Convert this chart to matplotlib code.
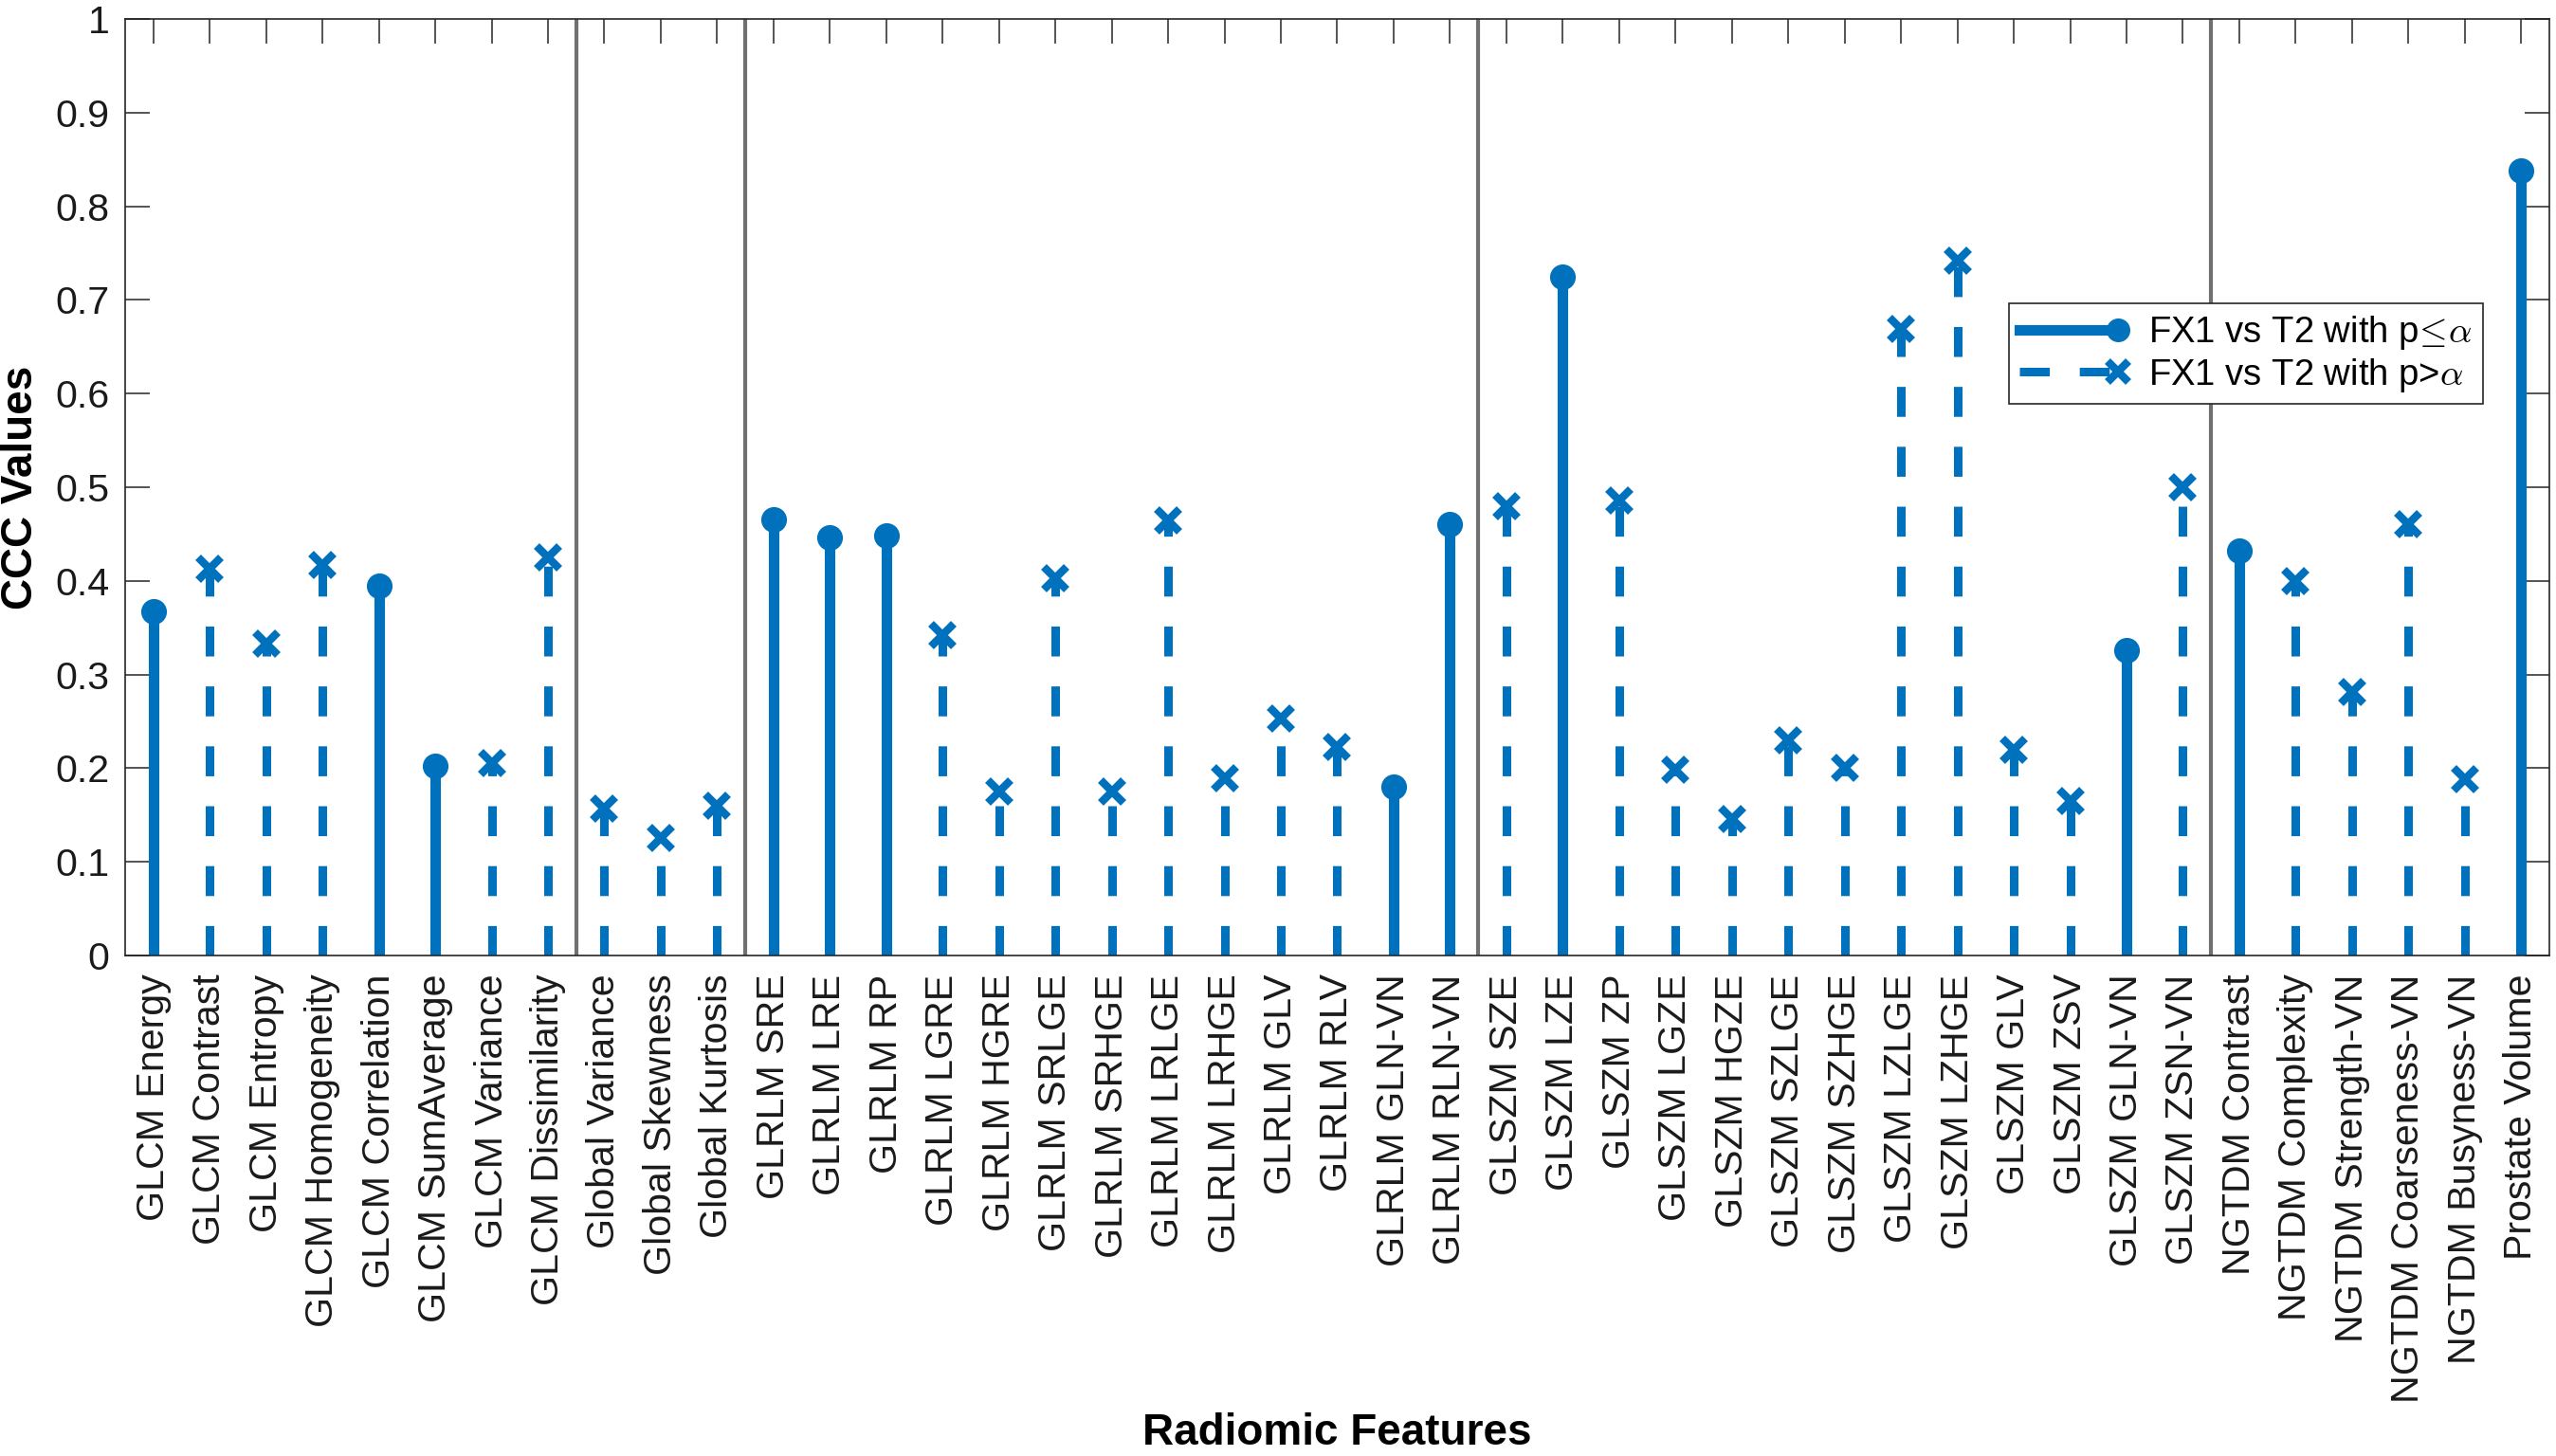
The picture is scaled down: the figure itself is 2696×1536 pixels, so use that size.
import numpy as np
import matplotlib
matplotlib.use("Agg")
import matplotlib.pyplot as plt
from matplotlib.lines import Line2D
from matplotlib.legend_handler import HandlerLine2D

plt.rcParams["font.family"] = ["Liberation Sans", "DejaVu Sans"]
plt.rcParams["mathtext.fontset"] = "cm"

features = [
    "GLCM Energy", "GLCM Contrast", "GLCM Entropy", "GLCM Homogeneity",
    "GLCM Correlation", "GLCM SumAverage", "GLCM Variance", "GLCM Dissimilarity",
    "Global Variance", "Global Skewness", "Global Kurtosis",
    "GLRLM SRE", "GLRLM LRE", "GLRLM RP", "GLRLM LGRE", "GLRLM HGRE",
    "GLRLM SRLGE", "GLRLM SRHGE", "GLRLM LRLGE", "GLRLM LRHGE", "GLRLM GLV",
    "GLRLM RLV", "GLRLM GLN-VN", "GLRLM RLN-VN",
    "GLSZM SZE", "GLSZM LZE", "GLSZM ZP", "GLSZM LGZE", "GLSZM HGZE",
    "GLSZM SZLGE", "GLSZM SZHGE", "GLSZM LZLGE", "GLSZM LZHGE", "GLSZM GLV",
    "GLSZM ZSV", "GLSZM GLN-VN", "GLSZM ZSN-VN",
    "NGTDM Contrast", "NGTDM Complexity", "NGTDM Strength-VN",
    "NGTDM Coarseness-VN", "NGTDM Busyness-VN", "Prostate Volume",
]
ccc = [
    0.367, 0.413, 0.333, 0.417, 0.395, 0.202, 0.205, 0.425,
    0.157, 0.126, 0.160,
    0.466, 0.446, 0.448, 0.342, 0.175, 0.403, 0.175, 0.465, 0.189, 0.253,
    0.223, 0.180, 0.461,
    0.480, 0.725, 0.486, 0.198, 0.146, 0.230, 0.200, 0.669, 0.742, 0.220,
    0.165, 0.326, 0.500,
    0.432, 0.400, 0.281, 0.461, 0.188, 0.838,
]
# True -> p <= alpha (solid stem, dot), False -> p > alpha (dashed stem, cross)
significant = [
    True, False, False, False, True, True, False, False,
    False, False, False,
    True, True, True, False, False, False, False, False, False, False,
    False, True, True,
    False, True, False, False, False, False, False, False, False, False,
    False, True, False,
    True, False, False, False, False, True,
]
group_breaks = [8.5, 11.5, 24.5, 37.5]
yticks = [0, 0.1, 0.2, 0.3, 0.4, 0.5, 0.6, 0.7, 0.8, 0.9, 1]

blue = "#0072BD"
dash = (0, (3.5, 3.5))

x = np.arange(1, len(features) + 1)
vals = np.array(ccc)
sig = np.array(significant)

fig = plt.figure(figsize=(26.96, 15.36), dpi=100)
ax = fig.add_axes([0.04896, 0.34375, 0.94844, 0.64323])

ax.vlines(group_breaks, 0, 1, color="#707070", lw=3, zorder=1)

ax.vlines(x[sig], 0, vals[sig], color=blue, lw=8, zorder=2)
ax.vlines(x[~sig], 0, vals[~sig], color=blue, lw=6.5, linestyles=[dash], zorder=2)
ax.plot(x[sig], vals[sig], "o", color=blue, ms=18.5, zorder=3)
ax.plot(x[~sig], vals[~sig], "x", color=blue, ms=17, mew=6, zorder=3)

ax.set_xlim(0.5, len(features) + 0.5)
ax.set_ylim(0, 1)
ax.set_xticks(x)
ax.set_xticklabels(features, rotation=90, fontsize=29.6, color="#1a1a1a")
ax.set_yticks(yticks)
ax.set_yticklabels([f"{v:g}" for v in yticks], fontsize=29.6, color="#1a1a1a")
ax.tick_params(axis="both", direction="in", top=True, right=True,
               length=19, width=1.1, color="#262626")
ax.tick_params(axis="x", pad=14)
ax.tick_params(axis="y", pad=12)
for s in ax.spines.values():
    s.set_linewidth(1.2)
    s.set_color("#262626")

ax.set_xlabel("Radiomic Features", fontsize=33, fontweight="bold")
ax.xaxis.set_label_coords(0.5, -0.488)
ax.set_ylabel("CCC Values", fontsize=33, fontweight="bold")
ax.yaxis.set_label_coords(-0.0344, 0.5)


class EndMarkerHandler(HandlerLine2D):
    # MATLAB draws the stem legend marker at the end of the line
    def create_artists(self, *args, **kwargs):
        artists = super().create_artists(*args, **kwargs)
        for a in artists:
            if a.get_markevery() is not None:
                a.set_markevery([len(a.get_xdata()) - 1])
        return artists


h1 = Line2D([], [], color=blue, lw=8, marker="o", ms=17)
h2 = Line2D([], [], color=blue, lw=6.5, ls=dash, marker="x", ms=16, mew=6)
leg = ax.legend([h1, h2],
                [r"FX1 vs T2 with p$\!\leq\!\alpha$", r"FX1 vs T2 with p>$\alpha$"],
                loc="upper right", bbox_to_anchor=(0.9726, 0.696),
                borderaxespad=0, fontsize=27.5, handlelength=2.72,
                handletextpad=0.85, borderpad=0.28, labelspacing=0.12,
                fancybox=False, framealpha=1, edgecolor="#262626",
                numpoints=1, handler_map={Line2D: EndMarkerHandler()})
leg.get_frame().set_linewidth(1.2)

plt.savefig("out.png", dpi=100)
